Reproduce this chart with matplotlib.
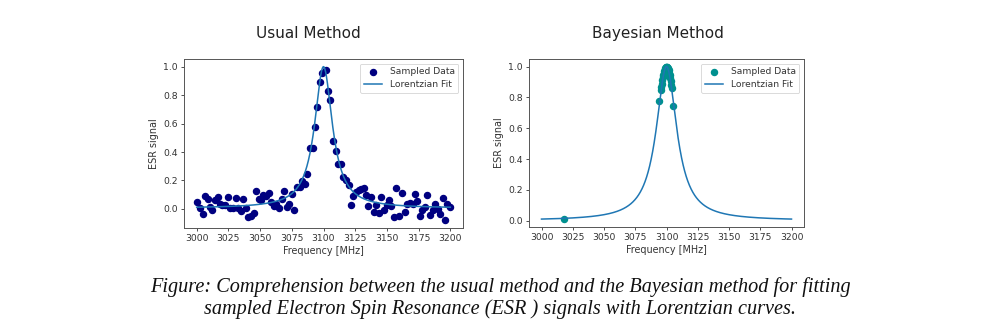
import numpy as np
import matplotlib
matplotlib.use('Agg')
import matplotlib.pyplot as plt

# muestras del metodo usual (MHz, senal)
freq_usual = [3000, 3002.6, 3004.7, 3006.6, 3008.7, 3010.8, 3012.4, 3014.8, 3016.6, 3018.5,
              3020.3, 3022.7, 3024.8, 3026.6, 3028.8, 3030.9, 3032.5, 3034.8, 3036.7, 3038.8,
              3040.6, 3042.7, 3044.9, 3046.7, 3048.8, 3050.9, 3052.5, 3054.9, 3057.0, 3058.8,
              3060.7, 3062.8, 3064.9, 3067.0, 3069.1, 3071.2, 3072.8, 3074.9, 3077.0, 3079.2,
              3081.3, 3083.4, 3085.5, 3087.3, 3089.2, 3091.6, 3093.1, 3095.0, 3097.1, 3099.2,
              3101.6, 3103.4, 3105.5, 3107.4, 3109.5, 3111.6, 3113.7, 3115.3, 3117.4, 3119.8,
              3121.4, 3123.5, 3125.6, 3127.7, 3129.8, 3131.9, 3133.8, 3135.4, 3137.5, 3139.6,
              3141.7, 3143.8, 3145.6, 3147.8, 3149.9, 3152.0, 3153.6, 3155.7, 3157.5, 3159.9,
              3162.0, 3163.9, 3166.0, 3168.1, 3170.2, 3172.0, 3174.1, 3175.7, 3177.8, 3179.9,
              3181.5, 3183.6, 3186.0, 3187.9, 3189.9, 3192.1, 3194.2, 3195.8, 3197.6, 3200.0]
senal_usual = [0.047, 0.005, -0.038, 0.094, 0.070, 0.014, -0.005, 0.066, 0.085, 0.033,
               0.028, 0.028, 0.085, 0.009, 0.009, 0.075, 0.009, -0.014, 0.070, 0.005,
               -0.056, -0.047, -0.028, 0.127, 0.070, 0.061, 0.099, 0.089, 0.113, 0.047,
               0.023, 0.038, 0.009, 0.070, 0.127, 0.014, 0.038, 0.108, -0.009, 0.155,
               0.155, 0.197, 0.174, 0.249, 0.427, 0.427, 0.577, 0.718, 0.892, 0.958,
               0.977, 0.826, 0.765, 0.474, 0.408, 0.319, 0.319, 0.225, 0.202, 0.169,
               0.028, 0.094, 0.117, 0.131, 0.141, 0.146, 0.099, 0.019, 0.085, -0.019,
               0.028, -0.028, 0.085, -0.005, 0.028, 0.066, 0.023, -0.056, 0.150, -0.047,
               0.113, -0.019, 0.038, 0.042, 0.033, 0.108, 0.056, -0.047, -0.009, 0.014,
               0.099, -0.042, -0.009, 0.033, 0.000, -0.033, 0.075, -0.080, 0.033, 0.014]

# muestras del metodo bayesiano
freq_bayes = [3018.0, 3094.3, 3095.3, 3095.6, 3096.0, 3096.4, 3096.8, 3097.2, 3097.6, 3098.0,
              3098.4, 3098.8, 3099.2, 3099.6, 3100.0, 3100.4, 3100.8, 3101.2, 3101.6, 3102.0,
              3102.4, 3102.8, 3103.2, 3103.6, 3104.0, 3104.8]
senal_bayes = [0.013, 0.775, 0.845, 0.870, 0.890, 0.910, 0.930, 0.945, 0.960, 0.970,
               0.980, 0.990, 0.995, 1.000, 1.000, 0.998, 0.990, 0.985, 0.975, 0.960,
               0.945, 0.925, 0.905, 0.880, 0.860, 0.745]

# parametros del ajuste lorentziano (centro, semiancho, amplitud, offset)
ajuste_usual = (3100.0, 8.5, 0.995, 0.005)
ajuste_bayes = (3100.0, 10.0, 1.0, 0.0)


def lorentz(f, centro, gamma, amp, off):
    return amp / (1 + ((f - centro) / gamma) ** 2) + off


plt.rcParams['font.family'] = 'DejaVu Sans'
plt.rcParams['text.color'] = '#333333'
plt.rcParams['axes.labelcolor'] = '#333333'
plt.rcParams['xtick.color'] = '#333333'
plt.rcParams['ytick.color'] = '#333333'

fig = plt.figure(figsize=(10, 3.35), dpi=100)

f = np.linspace(3000, 3200, 1000)
paneles = [
    ([0.184, 0.3194, 0.279, 0.5045], freq_usual, senal_usual, 'navy', ajuste_usual),
    ([0.529, 0.3233, 0.275, 0.5006], freq_bayes, senal_bayes, '#00908f', ajuste_bayes),
]
for pos, fx, sy, col, p in paneles:
    ax = fig.add_axes(pos)
    ax.scatter(fx, sy, s=19, color=col, label='Sampled Data', zorder=2)
    ax.plot(f, lorentz(f, *p), color='#1f77b4', lw=1.1, label='Lorentzian Fit', zorder=3)
    ax.set_xticks(np.arange(3000, 3201, 25))
    ax.set_yticks([0.0, 0.2, 0.4, 0.6, 0.8, 1.0])
    ax.tick_params(labelsize=6.7, length=2.5, width=0.6, pad=2)
    ax.set_xlabel('Frequency [MHz]', fontsize=6.9, labelpad=2)
    ax.set_ylabel('ESR signal', fontsize=6.9, labelpad=3)
    for s in ax.spines.values():
        s.set_color('#555555')
        s.set_linewidth(0.7)
    leg = ax.legend(loc='upper right', fontsize=6.6, framealpha=1, borderpad=0.4,
                    handlelength=2.0, labelspacing=0.4)
    leg.get_frame().set_linewidth(0.5)

fig.text(0.308, 0.90, 'Usual Method', ha='center', va='center', fontsize=11, color='#222222')
fig.text(0.658, 0.90, 'Bayesian Method', ha='center', va='center', fontsize=11, color='#222222')

fig.text(0.5, 0.143, 'Figure: Comprehension between the usual method and the Bayesian method for fitting',
         ha='center', va='center', fontsize=14.6, family='Liberation Serif', style='italic', color='#111111')
fig.text(0.5, 0.077, 'sampled Electron Spin Resonance (ESR ) signals with Lorentzian curves.',
         ha='center', va='center', fontsize=14.6, family='Liberation Serif', style='italic', color='#111111')

plt.savefig('out.png', dpi=100)
